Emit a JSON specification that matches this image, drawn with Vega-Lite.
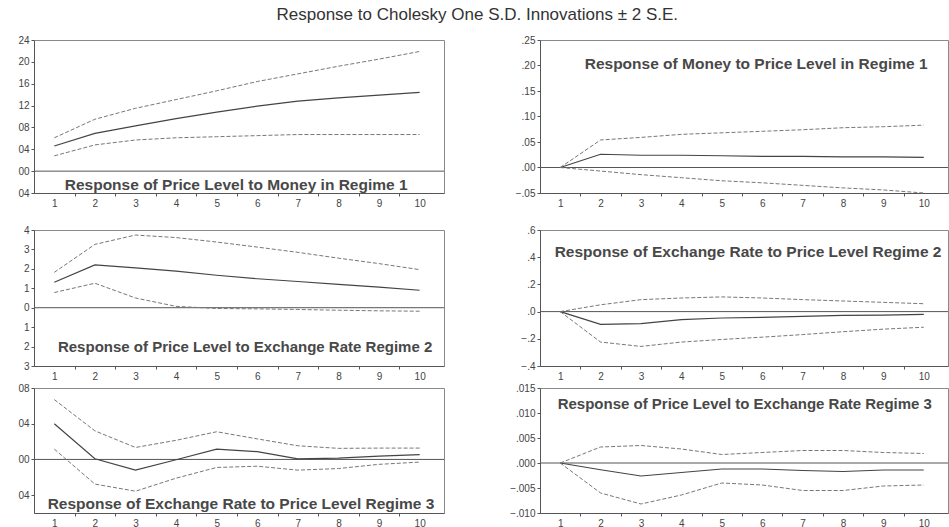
{
  "$schema": "https://vega.github.io/schema/vega-lite/v6.json",
  "background": "white",
  "padding": {"left": 5, "top": 5, "right": 4, "bottom": 0},
  "title": {"text": "Response to Cholesky One S.D. Innovations ± 2 S.E.", "fontSize": 17, "fontWeight": "normal", "font": "Liberation Sans", "color": "#333", "anchor": "middle", "offset": 11},
  "config": {
    "view": {"stroke": "#8a8a8a", "strokeWidth": 1},
    "axis": {"grid": false, "title": null, "labelFont": "Liberation Sans", "labelFontSize": 10, "labelColor": "#444", "domainColor": "#555", "tickColor": "#555", "tickSize": 3, "labelPadding": 2, "labelOverlap": false},
    "text": {"font": "Liberation Sans"}
  },
  "datasets": {
    "irf": [
      {"p": 1, "h": 1, "s": "mid", "v": 0.046}, {"p": 1, "h": 2, "s": "mid", "v": 0.069}, {"p": 1, "h": 3, "s": "mid", "v": 0.083}, {"p": 1, "h": 4, "s": "mid", "v": 0.096}, {"p": 1, "h": 5, "s": "mid", "v": 0.108}, {"p": 1, "h": 6, "s": "mid", "v": 0.119}, {"p": 1, "h": 7, "s": "mid", "v": 0.128}, {"p": 1, "h": 8, "s": "mid", "v": 0.134}, {"p": 1, "h": 9, "s": "mid", "v": 0.139}, {"p": 1, "h": 10, "s": "mid", "v": 0.144},
      {"p": 1, "h": 1, "s": "up", "v": 0.061}, {"p": 1, "h": 2, "s": "up", "v": 0.095}, {"p": 1, "h": 3, "s": "up", "v": 0.115}, {"p": 1, "h": 4, "s": "up", "v": 0.131}, {"p": 1, "h": 5, "s": "up", "v": 0.147}, {"p": 1, "h": 6, "s": "up", "v": 0.164}, {"p": 1, "h": 7, "s": "up", "v": 0.178}, {"p": 1, "h": 8, "s": "up", "v": 0.192}, {"p": 1, "h": 9, "s": "up", "v": 0.205}, {"p": 1, "h": 10, "s": "up", "v": 0.219},
      {"p": 1, "h": 1, "s": "lo", "v": 0.028}, {"p": 1, "h": 2, "s": "lo", "v": 0.048}, {"p": 1, "h": 3, "s": "lo", "v": 0.057}, {"p": 1, "h": 4, "s": "lo", "v": 0.061}, {"p": 1, "h": 5, "s": "lo", "v": 0.063}, {"p": 1, "h": 6, "s": "lo", "v": 0.065}, {"p": 1, "h": 7, "s": "lo", "v": 0.067}, {"p": 1, "h": 8, "s": "lo", "v": 0.067}, {"p": 1, "h": 9, "s": "lo", "v": 0.067}, {"p": 1, "h": 10, "s": "lo", "v": 0.067},

      {"p": 2, "h": 1, "s": "mid", "v": 0}, {"p": 2, "h": 2, "s": "mid", "v": 0.026}, {"p": 2, "h": 3, "s": "mid", "v": 0.024}, {"p": 2, "h": 4, "s": "mid", "v": 0.024}, {"p": 2, "h": 5, "s": "mid", "v": 0.023}, {"p": 2, "h": 6, "s": "mid", "v": 0.022}, {"p": 2, "h": 7, "s": "mid", "v": 0.022}, {"p": 2, "h": 8, "s": "mid", "v": 0.021}, {"p": 2, "h": 9, "s": "mid", "v": 0.021}, {"p": 2, "h": 10, "s": "mid", "v": 0.020},
      {"p": 2, "h": 1, "s": "up", "v": 0}, {"p": 2, "h": 2, "s": "up", "v": 0.054}, {"p": 2, "h": 3, "s": "up", "v": 0.059}, {"p": 2, "h": 4, "s": "up", "v": 0.065}, {"p": 2, "h": 5, "s": "up", "v": 0.068}, {"p": 2, "h": 6, "s": "up", "v": 0.071}, {"p": 2, "h": 7, "s": "up", "v": 0.074}, {"p": 2, "h": 8, "s": "up", "v": 0.078}, {"p": 2, "h": 9, "s": "up", "v": 0.080}, {"p": 2, "h": 10, "s": "up", "v": 0.083},
      {"p": 2, "h": 1, "s": "lo", "v": 0}, {"p": 2, "h": 2, "s": "lo", "v": -0.007}, {"p": 2, "h": 3, "s": "lo", "v": -0.014}, {"p": 2, "h": 4, "s": "lo", "v": -0.020}, {"p": 2, "h": 5, "s": "lo", "v": -0.026}, {"p": 2, "h": 6, "s": "lo", "v": -0.030}, {"p": 2, "h": 7, "s": "lo", "v": -0.035}, {"p": 2, "h": 8, "s": "lo", "v": -0.040}, {"p": 2, "h": 9, "s": "lo", "v": -0.044}, {"p": 2, "h": 10, "s": "lo", "v": -0.050},

      {"p": 3, "h": 1, "s": "mid", "v": 1.31}, {"p": 3, "h": 2, "s": "mid", "v": 2.2}, {"p": 3, "h": 3, "s": "mid", "v": 2.05}, {"p": 3, "h": 4, "s": "mid", "v": 1.88}, {"p": 3, "h": 5, "s": "mid", "v": 1.67}, {"p": 3, "h": 6, "s": "mid", "v": 1.49}, {"p": 3, "h": 7, "s": "mid", "v": 1.35}, {"p": 3, "h": 8, "s": "mid", "v": 1.2}, {"p": 3, "h": 9, "s": "mid", "v": 1.06}, {"p": 3, "h": 10, "s": "mid", "v": 0.9},
      {"p": 3, "h": 1, "s": "up", "v": 1.82}, {"p": 3, "h": 2, "s": "up", "v": 3.26}, {"p": 3, "h": 3, "s": "up", "v": 3.74}, {"p": 3, "h": 4, "s": "up", "v": 3.61}, {"p": 3, "h": 5, "s": "up", "v": 3.38}, {"p": 3, "h": 6, "s": "up", "v": 3.12}, {"p": 3, "h": 7, "s": "up", "v": 2.85}, {"p": 3, "h": 8, "s": "up", "v": 2.55}, {"p": 3, "h": 9, "s": "up", "v": 2.27}, {"p": 3, "h": 10, "s": "up", "v": 1.96},
      {"p": 3, "h": 1, "s": "lo", "v": 0.78}, {"p": 3, "h": 2, "s": "lo", "v": 1.26}, {"p": 3, "h": 3, "s": "lo", "v": 0.5}, {"p": 3, "h": 4, "s": "lo", "v": 0.07}, {"p": 3, "h": 5, "s": "lo", "v": -0.04}, {"p": 3, "h": 6, "s": "lo", "v": -0.06}, {"p": 3, "h": 7, "s": "lo", "v": -0.09}, {"p": 3, "h": 8, "s": "lo", "v": -0.13}, {"p": 3, "h": 9, "s": "lo", "v": -0.16}, {"p": 3, "h": 10, "s": "lo", "v": -0.18},

      {"p": 4, "h": 1, "s": "mid", "v": 0}, {"p": 4, "h": 2, "s": "mid", "v": -0.094}, {"p": 4, "h": 3, "s": "mid", "v": -0.089}, {"p": 4, "h": 4, "s": "mid", "v": -0.059}, {"p": 4, "h": 5, "s": "mid", "v": -0.047}, {"p": 4, "h": 6, "s": "mid", "v": -0.042}, {"p": 4, "h": 7, "s": "mid", "v": -0.035}, {"p": 4, "h": 8, "s": "mid", "v": -0.028}, {"p": 4, "h": 9, "s": "mid", "v": -0.026}, {"p": 4, "h": 10, "s": "mid", "v": -0.021},
      {"p": 4, "h": 1, "s": "up", "v": 0}, {"p": 4, "h": 2, "s": "up", "v": 0.05}, {"p": 4, "h": 3, "s": "up", "v": 0.088}, {"p": 4, "h": 4, "s": "up", "v": 0.1}, {"p": 4, "h": 5, "s": "up", "v": 0.108}, {"p": 4, "h": 6, "s": "up", "v": 0.1}, {"p": 4, "h": 7, "s": "up", "v": 0.088}, {"p": 4, "h": 8, "s": "up", "v": 0.078}, {"p": 4, "h": 9, "s": "up", "v": 0.068}, {"p": 4, "h": 10, "s": "up", "v": 0.058},
      {"p": 4, "h": 1, "s": "lo", "v": 0}, {"p": 4, "h": 2, "s": "lo", "v": -0.224}, {"p": 4, "h": 3, "s": "lo", "v": -0.256}, {"p": 4, "h": 4, "s": "lo", "v": -0.224}, {"p": 4, "h": 5, "s": "lo", "v": -0.205}, {"p": 4, "h": 6, "s": "lo", "v": -0.188}, {"p": 4, "h": 7, "s": "lo", "v": -0.169}, {"p": 4, "h": 8, "s": "lo", "v": -0.148}, {"p": 4, "h": 9, "s": "lo", "v": -0.129}, {"p": 4, "h": 10, "s": "lo", "v": -0.115},

      {"p": 5, "h": 1, "s": "mid", "v": 0.040}, {"p": 5, "h": 2, "s": "mid", "v": 0.0007}, {"p": 5, "h": 3, "s": "mid", "v": -0.012}, {"p": 5, "h": 4, "s": "mid", "v": -0.0004}, {"p": 5, "h": 5, "s": "mid", "v": 0.0115}, {"p": 5, "h": 6, "s": "mid", "v": 0.0087}, {"p": 5, "h": 7, "s": "mid", "v": 0.0007}, {"p": 5, "h": 8, "s": "mid", "v": 0.0015}, {"p": 5, "h": 9, "s": "mid", "v": 0.0036}, {"p": 5, "h": 10, "s": "mid", "v": 0.0054},
      {"p": 5, "h": 1, "s": "up", "v": 0.067}, {"p": 5, "h": 2, "s": "up", "v": 0.032}, {"p": 5, "h": 3, "s": "up", "v": 0.0134}, {"p": 5, "h": 4, "s": "up", "v": 0.0214}, {"p": 5, "h": 5, "s": "up", "v": 0.031}, {"p": 5, "h": 6, "s": "up", "v": 0.023}, {"p": 5, "h": 7, "s": "up", "v": 0.0153}, {"p": 5, "h": 8, "s": "up", "v": 0.0124}, {"p": 5, "h": 9, "s": "up", "v": 0.0127}, {"p": 5, "h": 10, "s": "up", "v": 0.0127},
      {"p": 5, "h": 1, "s": "lo", "v": 0.0116}, {"p": 5, "h": 2, "s": "lo", "v": -0.0276}, {"p": 5, "h": 3, "s": "lo", "v": -0.0356}, {"p": 5, "h": 4, "s": "lo", "v": -0.021}, {"p": 5, "h": 5, "s": "lo", "v": -0.009}, {"p": 5, "h": 6, "s": "lo", "v": -0.0076}, {"p": 5, "h": 7, "s": "lo", "v": -0.012}, {"p": 5, "h": 8, "s": "lo", "v": -0.0102}, {"p": 5, "h": 9, "s": "lo", "v": -0.0055}, {"p": 5, "h": 10, "s": "lo", "v": -0.003},

      {"p": 6, "h": 1, "s": "mid", "v": 0}, {"p": 6, "h": 2, "s": "mid", "v": -0.00135}, {"p": 6, "h": 3, "s": "mid", "v": -0.0026}, {"p": 6, "h": 4, "s": "mid", "v": -0.0019}, {"p": 6, "h": 5, "s": "mid", "v": -0.0012}, {"p": 6, "h": 6, "s": "mid", "v": -0.0012}, {"p": 6, "h": 7, "s": "mid", "v": -0.0015}, {"p": 6, "h": 8, "s": "mid", "v": -0.0017}, {"p": 6, "h": 9, "s": "mid", "v": -0.0014}, {"p": 6, "h": 10, "s": "mid", "v": -0.0014},
      {"p": 6, "h": 1, "s": "up", "v": 0}, {"p": 6, "h": 2, "s": "up", "v": 0.0032}, {"p": 6, "h": 3, "s": "up", "v": 0.0035}, {"p": 6, "h": 4, "s": "up", "v": 0.0028}, {"p": 6, "h": 5, "s": "up", "v": 0.0017}, {"p": 6, "h": 6, "s": "up", "v": 0.0021}, {"p": 6, "h": 7, "s": "up", "v": 0.0025}, {"p": 6, "h": 8, "s": "up", "v": 0.0025}, {"p": 6, "h": 9, "s": "up", "v": 0.0021}, {"p": 6, "h": 10, "s": "up", "v": 0.0019},
      {"p": 6, "h": 1, "s": "lo", "v": 0}, {"p": 6, "h": 2, "s": "lo", "v": -0.006}, {"p": 6, "h": 3, "s": "lo", "v": -0.0082}, {"p": 6, "h": 4, "s": "lo", "v": -0.0064}, {"p": 6, "h": 5, "s": "lo", "v": -0.004}, {"p": 6, "h": 6, "s": "lo", "v": -0.0044}, {"p": 6, "h": 7, "s": "lo", "v": -0.0055}, {"p": 6, "h": 8, "s": "lo", "v": -0.0055}, {"p": 6, "h": 9, "s": "lo", "v": -0.0046}, {"p": 6, "h": 10, "s": "lo", "v": -0.0044}
    ]
  },
  "columns": 2,
  "align": "each",
  "spacing": {"row": 0, "column": 54},
  "concat": [
    {
      "width": 410, "height": 153,
      "data": {"name": "irf"},
      "encoding": {
        "x": {"field": "h", "type": "quantitative", "scale": {"domain": [0.5, 10.6], "nice": false, "zero": false},
              "axis": {"values": [1,1.5,2,2.5,3,3.5,4,4.5,5,5.5,6,6.5,7,7.5,8,8.5,9,9.5,10], "labelExpr": "datum.value % 1 === 0 ? format(datum.value, 'd') : ''", "tickColor": {"condition": {"test": "datum.value % 1 === 0", "value": "transparent"}, "value": "#555"}, "minExtent": 30, "labelFlush": false}},
        "y": {"field": "v", "type": "quantitative", "scale": {"domain": [-0.04, 0.24], "nice": false, "zero": false},
              "axis": {"values": [-0.04, 0, 0.04, 0.08, 0.12, 0.16, 0.2, 0.24], "labelExpr": "replace(format(abs(datum.value), '.2f'), '0.', '')", "minExtent": 28}}
      },
      "layer": [
        {"transform": [{"filter": "datum.p == 1 && datum.h == 1 && datum.s == 'mid'"}], "mark": {"type": "rule", "color": "#555", "strokeWidth": 1}, "encoding": {"x": {"datum": 0.5}, "x2": {"datum": 10.6}, "y": {"datum": 0}}},
        {"transform": [{"filter": "datum.p == 1 && datum.s == 'mid'"}], "mark": {"type": "line", "color": "#444", "strokeWidth": 1.2}},
        {"transform": [{"filter": "datum.p == 1 && datum.s != 'mid'"}], "mark": {"type": "line", "color": "#777", "strokeWidth": 1, "strokeDash": [4, 2]}, "encoding": {"detail": {"field": "s"}}},
        {"transform": [{"filter": "datum.p == 1 && datum.h == 1 && datum.s == 'mid'"}], "mark": {"type": "text", "fontSize": 15.5, "fontWeight": "bold", "color": "#484848", "baseline": "middle", "text": "Response of Price Level to Money in Regime 1"}, "encoding": {"x": {"datum": 5.48}, "y": {"datum": -0.0254}}}
      ]
    },
    {
      "width": 408, "height": 153,
      "data": {"name": "irf"},
      "encoding": {
        "x": {"field": "h", "type": "quantitative", "scale": {"domain": [0.5, 10.6], "nice": false, "zero": false},
              "axis": {"values": [1,1.5,2,2.5,3,3.5,4,4.5,5,5.5,6,6.5,7,7.5,8,8.5,9,9.5,10], "labelExpr": "datum.value % 1 === 0 ? format(datum.value, 'd') : ''", "tickColor": {"condition": {"test": "datum.value % 1 === 0", "value": "transparent"}, "value": "#555"}, "minExtent": 30, "labelFlush": false}},
        "y": {"field": "v", "type": "quantitative", "scale": {"domain": [-0.05, 0.25], "nice": false, "zero": false},
              "axis": {"values": [-0.05, 0, 0.05, 0.1, 0.15, 0.2, 0.25], "labelExpr": "replace(format(datum.value, '.2f'), '0.', '.')", "minExtent": 40}}
      },
      "layer": [
        {"transform": [{"filter": "datum.p == 2 && datum.h == 1 && datum.s == 'mid'"}], "mark": {"type": "rule", "color": "#555", "strokeWidth": 1}, "encoding": {"x": {"datum": 0.5}, "x2": {"datum": 10.6}, "y": {"datum": 0}}},
        {"transform": [{"filter": "datum.p == 2 && datum.s == 'mid'"}], "mark": {"type": "line", "color": "#444", "strokeWidth": 1.2}},
        {"transform": [{"filter": "datum.p == 2 && datum.s != 'mid'"}], "mark": {"type": "line", "color": "#777", "strokeWidth": 1, "strokeDash": [4, 2]}, "encoding": {"detail": {"field": "s"}}},
        {"transform": [{"filter": "datum.p == 2 && datum.h == 1 && datum.s == 'mid'"}], "mark": {"type": "text", "fontSize": 15.5, "fontWeight": "bold", "color": "#484848", "baseline": "middle", "text": "Response of Money to Price Level in Regime 1"}, "encoding": {"x": {"datum": 5.85}, "y": {"datum": 0.203}}}
      ]
    },
    {
      "width": 410, "height": 136,
      "data": {"name": "irf"},
      "encoding": {
        "x": {"field": "h", "type": "quantitative", "scale": {"domain": [0.5, 10.6], "nice": false, "zero": false},
              "axis": {"values": [1,1.5,2,2.5,3,3.5,4,4.5,5,5.5,6,6.5,7,7.5,8,8.5,9,9.5,10], "labelExpr": "datum.value % 1 === 0 ? format(datum.value, 'd') : ''", "tickColor": {"condition": {"test": "datum.value % 1 === 0", "value": "transparent"}, "value": "#555"}, "labelFlush": false}},
        "y": {"field": "v", "type": "quantitative", "scale": {"domain": [-3, 4], "nice": false, "zero": false},
              "axis": {"values": [-3, -2, -1, 0, 1, 2, 3, 4], "labelExpr": "format(abs(datum.value), 'd')", "minExtent": 28}}
      },
      "layer": [
        {"transform": [{"filter": "datum.p == 3 && datum.h == 1 && datum.s == 'mid'"}], "mark": {"type": "rule", "color": "#555", "strokeWidth": 1}, "encoding": {"x": {"datum": 0.5}, "x2": {"datum": 10.6}, "y": {"datum": 0}}},
        {"transform": [{"filter": "datum.p == 3 && datum.s == 'mid'"}], "mark": {"type": "line", "color": "#444", "strokeWidth": 1.2}},
        {"transform": [{"filter": "datum.p == 3 && datum.s != 'mid'"}], "mark": {"type": "line", "color": "#777", "strokeWidth": 1, "strokeDash": [4, 2]}, "encoding": {"detail": {"field": "s"}}},
        {"transform": [{"filter": "datum.p == 3 && datum.h == 1 && datum.s == 'mid'"}], "mark": {"type": "text", "fontSize": 15, "fontWeight": "bold", "color": "#484848", "baseline": "middle", "text": "Response of Price Level to Exchange Rate Regime 2"}, "encoding": {"x": {"datum": 5.7}, "y": {"datum": -2.02}}}
      ]
    },
    {
      "width": 408, "height": 136,
      "data": {"name": "irf"},
      "encoding": {
        "x": {"field": "h", "type": "quantitative", "scale": {"domain": [0.5, 10.6], "nice": false, "zero": false},
              "axis": {"values": [1,1.5,2,2.5,3,3.5,4,4.5,5,5.5,6,6.5,7,7.5,8,8.5,9,9.5,10], "labelExpr": "datum.value % 1 === 0 ? format(datum.value, 'd') : ''", "tickColor": {"condition": {"test": "datum.value % 1 === 0", "value": "transparent"}, "value": "#555"}, "labelFlush": false}},
        "y": {"field": "v", "type": "quantitative", "scale": {"domain": [-0.4, 0.6], "nice": false, "zero": false},
              "axis": {"values": [-0.4, -0.2, 0, 0.2, 0.4, 0.6], "labelExpr": "replace(format(datum.value, '.1f'), '0.', '.')", "minExtent": 40}}
      },
      "layer": [
        {"transform": [{"filter": "datum.p == 4 && datum.h == 1 && datum.s == 'mid'"}], "mark": {"type": "rule", "color": "#555", "strokeWidth": 1}, "encoding": {"x": {"datum": 0.5}, "x2": {"datum": 10.6}, "y": {"datum": 0}}},
        {"transform": [{"filter": "datum.p == 4 && datum.s == 'mid'"}], "mark": {"type": "line", "color": "#444", "strokeWidth": 1.2}},
        {"transform": [{"filter": "datum.p == 4 && datum.s != 'mid'"}], "mark": {"type": "line", "color": "#777", "strokeWidth": 1, "strokeDash": [4, 2]}, "encoding": {"detail": {"field": "s"}}},
        {"transform": [{"filter": "datum.p == 4 && datum.h == 1 && datum.s == 'mid'"}], "mark": {"type": "text", "fontSize": 15.5, "fontWeight": "bold", "color": "#484848", "baseline": "middle", "text": "Response of Exchange Rate to Price Level Regime 2"}, "encoding": {"x": {"datum": 5.65}, "y": {"datum": 0.435}}}
      ]
    },
    {
      "width": 410, "height": 125,
      "data": {"name": "irf"},
      "encoding": {
        "x": {"field": "h", "type": "quantitative", "scale": {"domain": [0.5, 10.6], "nice": false, "zero": false},
              "axis": {"values": [1,1.5,2,2.5,3,3.5,4,4.5,5,5.5,6,6.5,7,7.5,8,8.5,9,9.5,10], "labelExpr": "datum.value % 1 === 0 ? format(datum.value, 'd') : ''", "tickColor": {"condition": {"test": "datum.value % 1 === 0", "value": "transparent"}, "value": "#555"}, "labelFlush": false}},
        "y": {"field": "v", "type": "quantitative", "scale": {"domain": [-0.06, 0.08], "nice": false, "zero": false},
              "axis": {"values": [-0.04, 0, 0.04, 0.08], "labelExpr": "replace(format(abs(datum.value), '.2f'), '0.', '')", "minExtent": 28}}
      },
      "layer": [
        {"transform": [{"filter": "datum.p == 5 && datum.h == 1 && datum.s == 'mid'"}], "mark": {"type": "rule", "color": "#555", "strokeWidth": 1}, "encoding": {"x": {"datum": 0.5}, "x2": {"datum": 10.6}, "y": {"datum": 0}}},
        {"transform": [{"filter": "datum.p == 5 && datum.s == 'mid'"}], "mark": {"type": "line", "color": "#444", "strokeWidth": 1.2}},
        {"transform": [{"filter": "datum.p == 5 && datum.s != 'mid'"}], "mark": {"type": "line", "color": "#777", "strokeWidth": 1, "strokeDash": [4, 2]}, "encoding": {"detail": {"field": "s"}}},
        {"transform": [{"filter": "datum.p == 5 && datum.h == 1 && datum.s == 'mid'"}], "mark": {"type": "text", "fontSize": 15.5, "fontWeight": "bold", "color": "#484848", "baseline": "middle", "text": "Response of Exchange Rate to Price Level Regime 3"}, "encoding": {"x": {"datum": 5.6}, "y": {"datum": -0.05}}}
      ]
    },
    {
      "width": 408, "height": 125,
      "data": {"name": "irf"},
      "encoding": {
        "x": {"field": "h", "type": "quantitative", "scale": {"domain": [0.5, 10.6], "nice": false, "zero": false},
              "axis": {"values": [1,1.5,2,2.5,3,3.5,4,4.5,5,5.5,6,6.5,7,7.5,8,8.5,9,9.5,10], "labelExpr": "datum.value % 1 === 0 ? format(datum.value, 'd') : ''", "tickColor": {"condition": {"test": "datum.value % 1 === 0", "value": "transparent"}, "value": "#555"}, "labelFlush": false}},
        "y": {"field": "v", "type": "quantitative", "scale": {"domain": [-0.01, 0.015], "nice": false, "zero": false},
              "axis": {"values": [-0.01, -0.005, 0, 0.005, 0.01, 0.015], "labelExpr": "replace(format(datum.value, '.3f'), '0.', '.')", "minExtent": 40}}
      },
      "layer": [
        {"transform": [{"filter": "datum.p == 6 && datum.h == 1 && datum.s == 'mid'"}], "mark": {"type": "rule", "color": "#555", "strokeWidth": 1}, "encoding": {"x": {"datum": 0.5}, "x2": {"datum": 10.6}, "y": {"datum": 0}}},
        {"transform": [{"filter": "datum.p == 6 && datum.s == 'mid'"}], "mark": {"type": "line", "color": "#444", "strokeWidth": 1.2}},
        {"transform": [{"filter": "datum.p == 6 && datum.s != 'mid'"}], "mark": {"type": "line", "color": "#777", "strokeWidth": 1, "strokeDash": [4, 2]}, "encoding": {"detail": {"field": "s"}}},
        {"transform": [{"filter": "datum.p == 6 && datum.h == 1 && datum.s == 'mid'"}], "mark": {"type": "text", "fontSize": 15, "fontWeight": "bold", "color": "#484848", "baseline": "middle", "text": "Response of Price Level to Exchange Rate Regime 3"}, "encoding": {"x": {"datum": 5.57}, "y": {"datum": 0.0119}}}
      ]
    }
  ]
}
